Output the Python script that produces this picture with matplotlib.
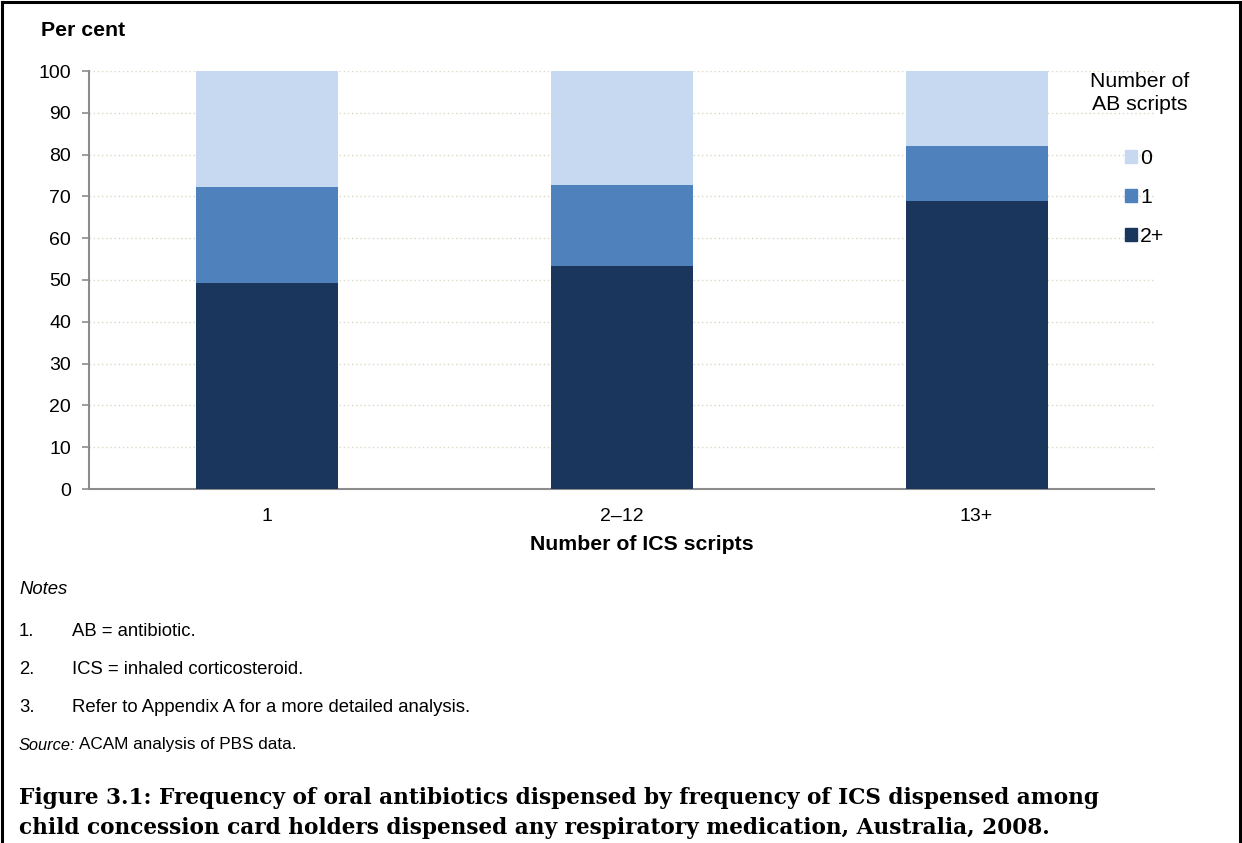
import matplotlib.pyplot as plt
from matplotlib.lines import Line2D
from matplotlib.patches import Patch

plt.rcParams['font.family'] = ['Liberation Sans', 'DejaVu Sans']

# Share of children by number of antibiotic (AB) scripts, per ICS group
ics_groups = ['1', '2\u201312', '13+']
ab_levels = ['2+', '1', '0']
share_2plus = [49.4, 53.4, 69.0]
share_1 = [22.9, 19.3, 13.1]
share_0 = [27.7, 27.3, 17.9]
colours = ['#1b365d', '#4f81bd', '#c6d9f0']

W, H = 1242, 843
fig = plt.figure(figsize=(W / 100, H / 100), dpi=100)


def px(x, y):
    return x / W, 1 - y / H


ax = fig.add_axes([89 / W, 1 - 489 / H, (1154 - 89) / W, (489 - 71) / H])

x = range(len(ics_groups))
bottom = [0] * len(ics_groups)
for vals, col, lab in zip([share_2plus, share_1, share_0], colours, ab_levels):
    ax.bar(x, vals, width=0.4, bottom=bottom, color=col, label=lab, zorder=3)
    bottom = [b + v for b, v in zip(bottom, vals)]

ax.set_xlim(-0.5, 2.5)
ax.set_ylim(0, 100)
ax.set_yticks(range(0, 101, 10))
ax.set_xticks(list(x))
ax.set_xticklabels(ics_groups)
ax.tick_params(axis='y', direction='out', length=5, width=1.2, color='#8c8c8c',
               labelsize=14, pad=8)
ax.tick_params(axis='x', length=0, labelsize=14, pad=14)
ax.grid(axis='y', color='#d9d9c6', linestyle=(0, (1, 2)), linewidth=1, zorder=0)
for s in ['top', 'right']:
    ax.spines[s].set_visible(False)
for s in ['left', 'bottom']:
    ax.spines[s].set_color('#8c8c8c')
    ax.spines[s].set_linewidth(1.5)

# legend, top to bottom 0, 1, 2+
handles = [Patch(color=c) for c in colours[::-1]]
fig.legend(handles, ab_levels[::-1], loc='upper left', bbox_to_anchor=px(1125, 149),
           frameon=False, fontsize=15.3, handlelength=0.55, handleheight=0.55,
           handletextpad=0.15, labelspacing=0.95, borderaxespad=0, borderpad=0)
fig.text(*px(1140, 93), 'Number of\nAB scripts', ha='center', va='center',
         fontsize=15.3, linespacing=1.3, multialignment='center')

fig.text(*px(41, 30), 'Per cent', ha='left', va='center', fontsize=15.3,
         fontweight='bold')
fig.text(*px(642, 545), 'Number of ICS scripts', ha='center', va='center',
         fontsize=15.3, fontweight='bold')

# notes and source
fig.text(*px(19, 590), 'Notes', ha='left', va='center', fontsize=13.3, style='italic')
notes = ['AB = antibiotic.', 'ICS = inhaled corticosteroid.',
         'Refer to Appendix A for a more detailed analysis.']
for i, (yy, note) in enumerate(zip([631, 669, 707], notes)):
    fig.text(*px(19, yy), f'{i + 1}.', ha='left', va='center', fontsize=13.3)
    fig.text(*px(72, yy), note, ha='left', va='center', fontsize=13.3)
src = fig.text(*px(19, 745), 'Source:', ha='left', va='center', fontsize=11.8,
               style='italic')
ax.annotate('ACAM analysis of PBS data.', xy=(1, 0.5), xycoords=src,
            xytext=(2.5, 0), textcoords='offset points', ha='left', va='center',
            fontsize=12.3, annotation_clip=False)

cap_font = ['DejaVu Serif', 'Liberation Serif']
fig.text(*px(19, 798), 'Figure 3.1: Frequency of oral antibiotics dispensed by '
         'frequency of ICS dispensed among', ha='left', va='center',
         fontsize=15.6, fontweight='bold', family=cap_font)
fig.text(*px(19, 828), 'child concession card holders dispensed any respiratory '
         'medication, Australia, 2008.', ha='left', va='center',
         fontsize=15.6, fontweight='bold', family=cap_font)

# frame around the figure (open at the bottom)
for xs, ys in [([2, 2], [843, 2]), ([2, 1240], [2, 2]), ([1240, 1240], [2, 843])]:
    fig.add_artist(Line2D([a / W for a in xs], [1 - b / H for b in ys],
                          color='black', linewidth=2.2))

fig.savefig('out.png', dpi=100)
